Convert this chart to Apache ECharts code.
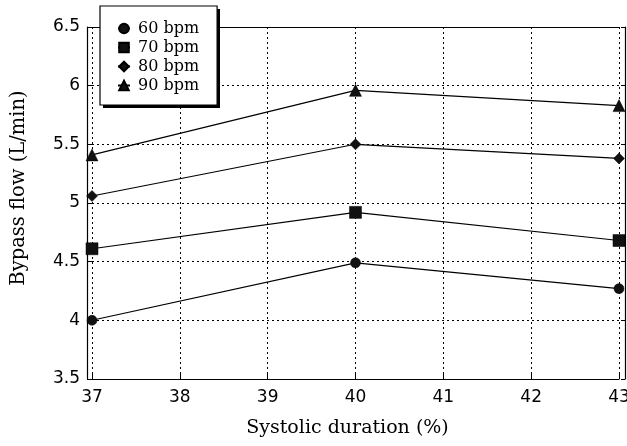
<!DOCTYPE html>
<html><head><meta charset="utf-8">
<script src="https://cdn.jsdelivr.net/npm/echarts@6/dist/echarts.min.js"></script>
<style>html,body{margin:0;padding:0;background:#fff}#c{width:627px;height:446px}</style>
</head><body><div id="c"></div>
<script>
var xValues = [37, 40, 43];
var seriesNames = ['60 bpm', '70 bpm', '80 bpm', '90 bpm'];
var bpm60 = [4.00, 4.49, 4.27];
var bpm70 = [4.61, 4.92, 4.68];
var bpm80 = [5.06, 5.50, 5.38];
var bpm90 = [5.41, 5.96, 5.83];
var symbols = ['circle', 'rect', 'diamond', 'triangle'];
var symbolSizes = [10, 12, 11, 12];
var allValues = [bpm60, bpm70, bpm80, bpm90];

var chart = echarts.init(document.getElementById('c'), null, {renderer: 'canvas'});
var serif = 'DejaVu Serif';
var sans = 'DejaVu Sans';
var series = allValues.map(function (vals, i) {
  return {
    name: seriesNames[i], type: 'line', xAxisIndex: 0, yAxisIndex: 0,
    data: xValues.map(function (x, j) { return [x, vals[j]]; }),
    symbol: symbols[i], symbolSize: symbolSizes[i],
    lineStyle: {color: '#000', width: 1.1},
    itemStyle: {color: '#111', borderColor: '#000', borderWidth: 0.5},
    animation: false
  };
});
chart.setOption({
  animation: false,
  graphic: [{
    type: 'rect', left: 103, top: 9, z: 5,
    shape: {width: 117, height: 99},
    style: {fill: '#000'}
  }],
  grid: {left: 92, right: 8, top: 27, bottom: 67, containLabel: false, outerBoundsMode: 'none'},
  legend: {
    orient: 'vertical', left: 100, top: 6, data: seriesNames, z: 6,
    backgroundColor: '#fff', borderColor: '#000', borderWidth: 1.2,
    padding: [13, 18, 10, 17], itemGap: 0, itemWidth: 12, itemHeight: 12,
    textStyle: {fontFamily: serif, fontSize: 16, lineHeight: 19, color: '#000', padding: [0, 0, 0, 3]}
  },
  xAxis: [{
    type: 'value', min: 37, max: 43, interval: 1, position: 'bottom',
    name: 'Systolic duration (%)', nameLocation: 'middle', nameGap: 40,
    nameTextStyle: {fontFamily: serif, fontSize: 19, color: '#000', padding: [0, 16, 0, 0]},
    axisLine: {show: true, onZero: false, lineStyle: {color: '#000', width: 1.2}},
    axisTick: {show: true, inside: true, length: 5, lineStyle: {color: '#000'}},
    axisLabel: {fontFamily: sans, fontSize: 17, color: '#000', margin: 10},
    splitLine: {show: true, lineStyle: {color: '#000', type: [2, 3], width: 1}}
  }, {
    type: 'value', min: 37, max: 43, position: 'top',
    axisLine: {show: true, onZero: false, lineStyle: {color: '#000', width: 1.2}},
    axisTick: {show: false}, axisLabel: {show: false}, splitLine: {show: false}
  }],
  yAxis: [{
    type: 'value', min: 3.5, max: 6.5, interval: 0.5, position: 'left', offset: 5,
    name: 'Bypass flow (L/min)', nameLocation: 'middle', nameGap: 58, nameRotate: 90,
    nameTextStyle: {fontFamily: serif, fontSize: 19.5, color: '#000', padding: [0, 0, 0, 30]},
    axisLine: {show: true, onZero: false, lineStyle: {color: '#000', width: 1.2}},
    axisTick: {show: true, inside: true, length: 5, lineStyle: {color: '#000'}},
    axisLabel: {fontFamily: sans, fontSize: 17, color: '#000', margin: 7},
    splitLine: {show: true, lineStyle: {color: '#000', type: [2, 3], width: 1}}
  }, {
    type: 'value', min: 3.5, max: 6.5, interval: 0.5, position: 'right', offset: 6,
    axisLine: {show: true, onZero: false, lineStyle: {color: '#000', width: 1.2}},
    axisTick: {show: true, inside: true, length: 4, lineStyle: {color: '#000'}},
    axisLabel: {show: false}, splitLine: {show: false}
  }],
  series: series
});
</script></body></html>
